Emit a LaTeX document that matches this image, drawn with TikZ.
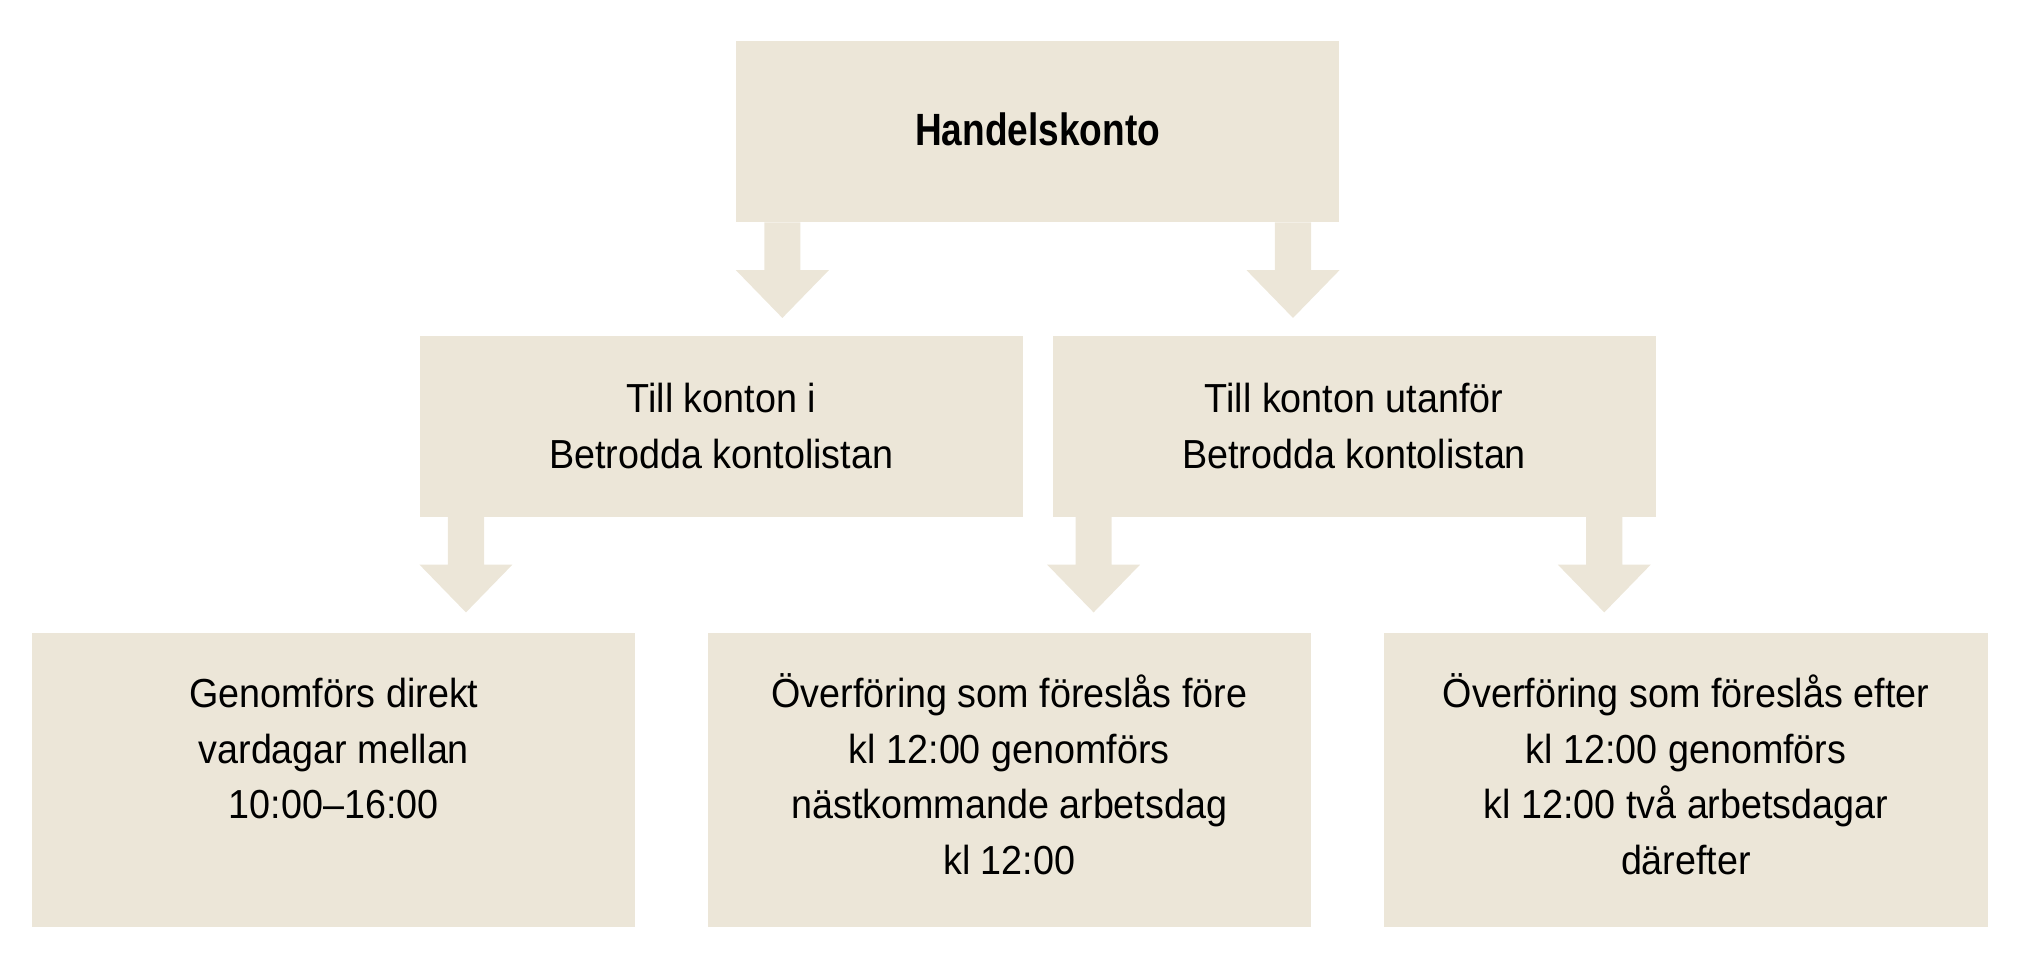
\documentclass[tikz,border=0pt]{standalone}
\usepackage{fontspec}
\setmainfont{Liberation Sans}[FakeStretch=0.93]
\newfontfamily\headfont{Liberation Sans}[FakeStretch=0.82]
\usetikzlibrary{calc}
\definecolor{boxfill}{RGB}{236,230,216}
\tikzset{
  box/.style={rectangle, fill=boxfill, draw=none, inner sep=0pt, minimum width=467pt},
  txt/.style={inner sep=0pt, align=center, font=\fontsize{31.4}{43.1}\selectfont, text=black, anchor=base},
  headtxt/.style={inner sep=0pt, font=\headfont\bfseries\fontsize{35}{40}\selectfont, text=black, anchor=base},
  fatarrow/.style={fill=boxfill, draw=none}
}
% fat downward arrow: #1 = top-centre of the shaft
\newcommand\fatarr[1]{%
  \path[fatarrow] ($#1+(-14,0)$) -- ++(0,37) -- ++(-22,0) -- ++(36,37) -- ++(36,-37) -- ++(-22,0) -- ++(0,-37) -- cycle;}
\begin{document}
\begin{tikzpicture}[x=1pt,y=-1pt]
\useasboundingbox (0,0) rectangle (1568,752);
% boxes
\node[box, minimum height=140pt] (top) at (803.5,102) {};
\node[box, minimum height=140pt] (ml) at (558.5,330) {};
\node[box, minimum height=140pt] (mr) at (1048.5,330) {};
\node[box, minimum height=228pt] (bl) at (258.5,604) {};
\node[box, minimum height=228pt] (bm) at (781.5,604) {};
\node[box, minimum height=228pt] (br) at (1305.5,604) {};
% texts (base anchor = baseline of the last line)
\node[headtxt] (ttop) at ($(top.north)+(0,80.8)$) {Handelskonto};
\node[txt] (tml) at ($(ml.north)+(0,102.6)$) {Till konton i\\Betrodda kontolistan};
\node[txt] (tmr) at ($(mr.north)+(0,102.6)$) {Till konton utanför\\Betrodda kontolistan};
\node[txt] (tbl) at ($(bl.north)+(0,144.2)$) {Genomförs direkt\\vardagar mellan\\10:00–16:00};
\node[txt] (tbm) at ($(bm.north)+(0,187.3)$) {Överföring som föreslås före\\kl 12:00 genomförs\\nästkommande arbetsdag\\kl 12:00};
\node[txt] (tbr) at ($(br.north)+(0,187.3)$) {Överföring som föreslås efter\\kl 12:00 genomförs\\kl 12:00 två arbetsdagar\\därefter};
% arrows (from parent box towards child box)
\fatarr{(top.south west)+(36,0)}
\fatarr{(top.south east)+(-36,0)}
\fatarr{(ml.south west)+(36,0)}
\fatarr{(mr.south west)+(32,0)}
\fatarr{(mr.south east)+(-40,0)}
\end{tikzpicture}
\end{document}
